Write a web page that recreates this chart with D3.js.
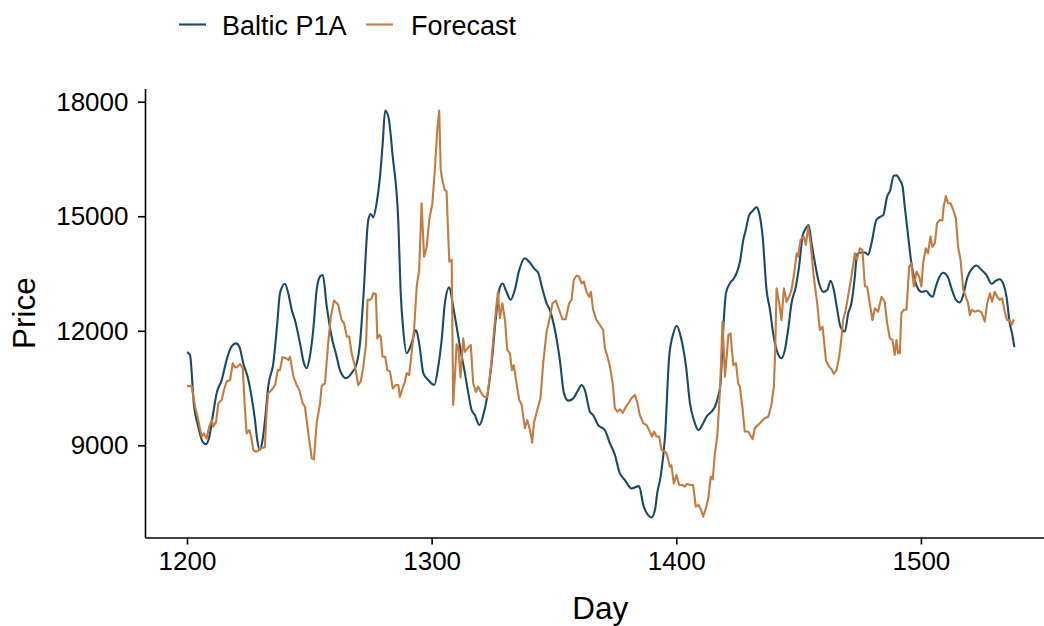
<!DOCTYPE html>
<html>
<head>
<meta charset="utf-8">
<script src="https://cdn.jsdelivr.net/npm/d3@7"></script>
<style>
  html, body { margin: 0; padding: 0; background: #fff; }
  svg { display: block; font-family: "Liberation Sans", Arial, Helvetica, sans-serif; }
</style>
</head>
<body>
<svg id="chart" width="1044" height="626"></svg>
<script>
const seriesNames = ["Baltic P1A", "Forecast"];
const xTicks = [1200, 1300, 1400, 1500];
const yTicks = [9000, 12000, 15000, 18000];

const balticDay = [1200.0,1201.2,1202.9,1204.6,1206.4,1207.8,1209.1,1210.7,1212.1,1214.2,1216.2,1218.3,1220.0,1221.4,1223.0,1225.1,1226.4,1227.8,1228.7,1229.8,1230.9,1232.3,1233.2,1235.3,1236.9,1238.0,1240.0,1241.4,1242.8,1244.1,1246.2,1247.8,1248.9,1250.2,1251.6,1253.0,1254.4,1255.5,1257.1,1259.1,1261.2,1262.5,1265.0,1267.3,1269.4,1270.7,1272.1,1274.1,1275.1,1276.1,1277.5,1278.9,1280.0,1281.0,1282.3,1284.1,1286.4,1287.3,1288.4,1289.8,1291.8,1293.6,1294.9,1296.6,1298.6,1301.1,1302.7,1304.1,1305.4,1307.2,1308.8,1310.9,1311.6,1313.6,1315.0,1316.3,1317.7,1319.5,1321.1,1322.7,1324.5,1326.3,1327.6,1329.0,1330.6,1332.3,1334.0,1335.8,1338.1,1340.2,1342.2,1343.6,1345.4,1347.0,1348.3,1350.4,1352.4,1354.1,1355.8,1357.9,1359.9,1361.3,1362.6,1364.7,1366.0,1368.1,1370.8,1372.9,1374.9,1376.9,1379.0,1381.7,1384.8,1386.5,1388.5,1389.9,1391.3,1392.2,1393.6,1395.4,1397.1,1398.8,1400.2,1401.8,1404.0,1405.6,1407.2,1409.1,1411.0,1412.4,1414.4,1415.8,1417.1,1418.1,1418.9,1420.3,1421.9,1423.3,1424.9,1426.0,1427.4,1428.4,1429.8,1431.4,1432.8,1433.9,1435.3,1436.9,1438.3,1439.6,1441.0,1443.0,1444.4,1445.7,1447.1,1448.9,1450.2,1451.6,1453.0,1454.1,1455.3,1456.7,1458.4,1460.1,1461.7,1463.1,1464.4,1465.8,1467.1,1468.9,1470.3,1471.6,1473.0,1473.9,1475.7,1477.1,1478.4,1479.8,1481.8,1483.5,1484.6,1486.2,1487.3,1488.9,1490.0,1491.4,1492.5,1493.4,1494.8,1496.1,1497.5,1498.9,1500.2,1502.3,1503.6,1504.8,1506.1,1507.5,1509.1,1510.9,1512.5,1514.3,1515.9,1517.5,1518.9,1520.7,1522.7,1524.8,1526.8,1528.9,1530.6,1532.2,1533.6,1535.0,1536.3,1537.4,1538.2];
const balticPrice = [11440,11370,10010,9490,9090,9030,9220,9840,10360,10710,11240,11600,11670,11580,11150,10710,10270,9660,9140,8880,9140,9930,10540,11150,12200,12980,13230,12980,12550,12280,11670,11150,11020,11320,12020,13070,13420,13460,12650,11850,11320,10970,10760,10890,11150,11670,12890,14900,15060,14970,15340,16040,16910,17770,17610,16560,14820,13070,12020,11410,11670,12020,11670,10890,10710,10580,11060,11760,12720,13140,12630,11850,11580,10890,10360,9930,9790,9530,9790,10270,11150,12370,13070,13240,13020,12810,13070,13590,13900,13780,13610,13510,13070,12720,12550,12020,11240,10360,10170,10230,10450,10580,10450,9880,9790,9530,9400,9050,8750,8270,8090,7870,7930,7440,7170,7110,7310,7740,8180,9230,11320,11930,12130,11850,11060,10100,9660,9400,9580,9750,9880,10010,10270,10620,11670,12980,13240,13350,13550,13800,14380,14640,15030,15150,15240,15080,14470,13070,12550,11930,11500,11280,11500,12020,12720,13160,13680,14470,14690,14770,14290,13770,13240,13020,13070,13310,13070,12550,12110,11980,12460,12720,13420,14010,14050,14050,13990,14290,14900,14990,15030,15520,15650,16060,16070,15950,15780,15250,14470,13770,13330,13090,13020,13040,12940,12890,13160,13400,13520,13420,13110,12810,12740,12980,13380,13610,13710,13590,13460,13230,13310,13350,13240,12890,12200,11890,11570];

const forecastDay = [1200.0,1201.9,1203.3,1204.6,1206.0,1206.9,1208.0,1209.1,1210.1,1210.7,1211.9,1212.8,1214.2,1215.1,1216.2,1217.6,1218.7,1219.6,1220.6,1221.7,1222.8,1223.7,1224.4,1225.5,1226.2,1227.1,1228.2,1229.1,1230.2,1231.8,1232.6,1233.2,1234.6,1236.0,1237.1,1238.0,1239.0,1240.5,1241.4,1242.1,1243.5,1244.8,1245.9,1247.3,1248.2,1249.6,1251.0,1251.9,1253.0,1254.4,1255.0,1255.5,1256.4,1257.7,1258.8,1260.1,1261.8,1263.2,1264.2,1265.3,1266.3,1267.3,1268.7,1270.0,1271.0,1272.1,1273.2,1273.8,1274.8,1275.5,1276.1,1277.2,1277.8,1278.6,1279.2,1279.9,1281.0,1281.9,1283.0,1284.1,1285.4,1286.4,1287.0,1288.1,1289.1,1289.8,1290.8,1291.8,1292.8,1293.9,1294.9,1295.9,1296.9,1298.0,1299.0,1300.3,1301.3,1302.3,1303.1,1303.7,1304.5,1305.4,1306.1,1306.8,1307.2,1308.2,1308.8,1309.5,1310.2,1310.9,1311.8,1312.9,1313.6,1314.6,1316.0,1317.0,1318.1,1319.0,1320.4,1321.4,1322.7,1324.1,1325.2,1326.3,1327.1,1327.9,1328.9,1330.0,1330.9,1332.0,1332.8,1333.6,1334.7,1335.8,1336.8,1338.1,1339.1,1340.2,1341.1,1341.8,1343.2,1344.5,1345.6,1347.0,1348.1,1349.4,1350.8,1352.1,1353.5,1354.8,1356.2,1357.2,1358.1,1359.2,1360.3,1361.3,1362.2,1363.3,1364.4,1365.1,1366.0,1367.4,1368.8,1370.1,1370.8,1371.8,1372.9,1374.0,1374.9,1375.9,1377.0,1378.1,1379.4,1380.8,1381.7,1383.1,1384.0,1385.1,1386.5,1387.8,1389.2,1390.1,1390.9,1391.9,1393.0,1394.0,1395.4,1396.0,1396.7,1397.4,1398.0,1399.0,1400.1,1401.2,1402.5,1403.5,1404.4,1405.6,1406.9,1408.0,1409.1,1410.1,1411.0,1412.1,1413.1,1414.1,1414.9,1415.8,1416.8,1417.6,1418.1,1418.9,1419.9,1420.6,1421.3,1422.2,1423.3,1424.4,1425.3,1426.0,1427.0,1428.0,1429.4,1431.2,1432.1,1434.2,1436.2,1437.6,1438.9,1439.9,1440.4,1441.0,1442.1,1443.0,1444.0,1445.1,1446.1,1447.1,1448.1,1449.2,1449.8,1450.8,1452.1,1453.0,1453.9,1454.9,1456.2,1457.6,1458.7,1459.8,1461.2,1462.5,1463.5,1464.4,1465.5,1466.6,1467.5,1468.2,1469.3,1470.2,1471.6,1473.0,1473.9,1475.0,1476.1,1477.1,1478.0,1479.1,1480.2,1481.2,1482.5,1483.9,1485.2,1486.2,1487.3,1488.4,1489.3,1490.0,1490.7,1491.4,1492.0,1493.0,1494.1,1495.2,1496.1,1497.1,1498.2,1499.3,1500.2,1500.9,1502.0,1502.9,1503.9,1504.7,1505.7,1506.6,1507.7,1508.8,1509.3,1510.2,1511.1,1512.1,1513.2,1514.3,1515.2,1516.2,1517.3,1518.4,1519.3,1520.0,1520.8,1522.0,1523.4,1524.8,1526.1,1527.1,1528.2,1529.1,1530.2,1531.2,1532.2,1533.2,1534.3,1535.2,1536.3,1537.1,1538.0];
const forecastPrice = [10550,10550,10010,9660,9230,9310,9180,9490,9660,9490,9620,10100,10190,10450,10670,10710,11150,11040,11060,11130,11020,9930,9310,9400,9230,8880,8830,8860,8920,8950,9930,10360,10450,10580,10970,10970,11310,11280,11240,11320,10800,10580,10450,10100,10010,9310,8660,8630,9580,10100,10540,10580,10620,11670,12370,12790,12680,12280,12200,11850,11850,11410,11060,10580,10670,11060,11670,12810,12810,12850,12980,12960,11800,11890,11850,11320,11320,10970,10930,10490,10580,10580,10270,10490,10670,10890,10840,11410,12020,13160,13590,15340,13940,14200,14900,15340,16210,17260,17770,16210,15910,15690,15650,14470,13810,13860,10060,10800,11650,11580,10780,11800,11450,11540,11630,10620,10400,10540,10360,10270,10260,10970,11760,12550,13020,12330,12720,12280,11500,11410,10970,11100,10620,10190,10060,9450,9660,9400,9070,9580,9930,10230,11150,11980,12280,12720,12790,12550,12300,12300,12720,12810,13330,13440,13420,13240,13290,13020,12890,13020,12550,12280,12150,12020,11560,11340,11060,10620,9970,9880,9940,9850,10010,10140,10230,10320,10140,9790,9580,9530,9360,9230,9360,9230,9230,8880,8830,8790,8620,8440,8480,8000,8220,7960,7960,7920,7990,7960,7960,7390,7440,7310,7130,7350,7610,8180,8110,8790,9270,10140,10800,12240,10800,11320,11890,11930,11100,11150,10620,10540,10010,9360,9360,9160,9450,9580,9710,9750,10060,10540,11410,13110,12720,12280,13110,12760,12890,13070,13460,14030,13940,14380,14470,14250,14730,14290,13420,12720,12020,12110,11220,11060,10990,10870,10970,11320,11800,12280,12560,12890,13420,14030,13860,14160,14120,13160,13160,12720,12280,12590,12500,12890,12760,12200,11800,11760,11370,11760,11410,11410,12460,12550,12550,13680,13770,13160,13550,13420,13160,13770,14160,14030,14470,14200,14290,14820,14900,14890,15250,15530,15340,15340,15170,14950,14200,13860,13070,12890,12720,12410,12550,12500,12530,12480,12240,12720,12980,12760,13020,12890,12810,12850,12500,12280,12280,12150,12300];

const colors = ["#1a4b63", "#c47b41"];

(function draw() {
  const svg = d3.select("#chart");
  const mLeft = 145, mRight = 1055.7, mTop = 88.5, mBottom = 537.5;

  const x = d3.scaleLinear().domain([1182.83, 1555.1]).range([mLeft, mRight]);
  const y = d3.scaleLinear().domain([6585, 18346]).range([mBottom, mTop]);

  const tickFont = 26;

  const xAxis = svg.append("g")
    .attr("transform", `translate(0,${mBottom})`)
    .call(d3.axisBottom(x).tickValues(xTicks).tickFormat(d3.format("d"))
      .tickSizeInner(7).tickSizeOuter(0).tickPadding(7));
  const yAxis = svg.append("g")
    .attr("transform", `translate(${mLeft},0)`)
    .call(d3.axisLeft(y).tickValues(yTicks).tickFormat(d3.format("d"))
      .tickSizeInner(7).tickSizeOuter(0).tickPadding(9.5));

  [xAxis, yAxis].forEach(g => {
    g.select(".domain").attr("stroke", "#000").attr("stroke-width", 1.6);
    g.selectAll(".tick line").attr("stroke", "#000").attr("stroke-width", 1.6);
    g.selectAll(".tick text").attr("fill", "#000")
      .style("font-size", tickFont + "px")
      .style("font-family", "'Liberation Sans', Arial, sans-serif");
  });

  svg.append("text")
    .attr("x", (mLeft + mRight) / 2).attr("y", 619)
    .attr("text-anchor", "middle")
    .style("font-size", "31.5px").attr("fill", "#000")
    .text("Day");
  svg.append("text")
    .attr("transform", `translate(35,${(mTop + mBottom) / 2}) rotate(-90)`)
    .attr("text-anchor", "middle")
    .style("font-size", "31.5px").attr("fill", "#000")
    .text("Price");

  const series = [
    { days: balticDay, vals: balticPrice, curve: d3.curveMonotoneX },
    { days: forecastDay, vals: forecastPrice, curve: d3.curveLinear }
  ];
  series.forEach((s, i) => {
    const pts = s.days.map((d, k) => [d, s.vals[k]]);
    const line = d3.line().x(d => x(d[0])).y(d => y(d[1])).curve(s.curve);
    svg.append("path")
      .datum(pts)
      .attr("d", line)
      .attr("fill", "none")
      .attr("stroke", colors[i])
      .attr("stroke-width", 2.1)
      .attr("stroke-linejoin", "round");
  });

  const legendPos = [{ x1: 179, tx: 222 }, { x1: 366, tx: 411 }];
  seriesNames.forEach((name, i) => {
    svg.append("line")
      .attr("x1", legendPos[i].x1).attr("x2", legendPos[i].x1 + 27)
      .attr("y1", 24.5).attr("y2", 24.5)
      .attr("stroke", colors[i]).attr("stroke-width", 2.1);
    svg.append("text")
      .attr("x", legendPos[i].tx).attr("y", 35)
      .style("font-size", "27px").attr("fill", "#000")
      .text(name);
  });
})();
</script>
</body>
</html>
